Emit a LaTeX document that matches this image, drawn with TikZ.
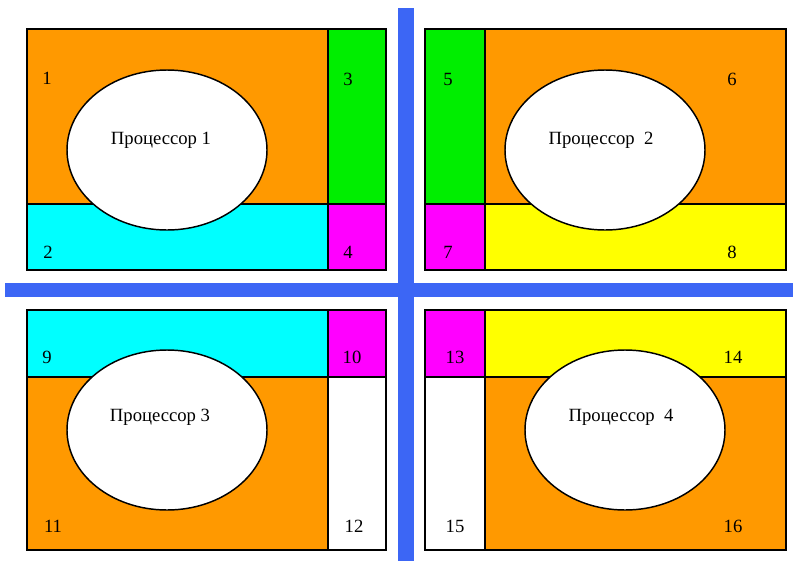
\documentclass[tikz,border=0pt]{standalone}
\usepackage{fontspec}
\setmainfont{Liberation Serif}
\usepackage{tikz}
\usetikzlibrary{shapes.geometric}
\definecolor{cellorange}{RGB}{255,153,0}
\definecolor{cellcyan}{RGB}{0,255,255}
\definecolor{cellgreen}{RGB}{0,238,0}
\definecolor{cellmagenta}{RGB}{255,0,255}
\definecolor{cellyellow}{RGB}{255,255,0}
\definecolor{barblue}{RGB}{60,102,245}
\tikzset{
  cellbox/.style={draw=black, line width=1.1pt},
  procell/.style={ellipse, draw=black, fill=white, line width=1.1pt, inner sep=0pt, minimum width=150pt, minimum height=120pt},
  proclabel/.style={font=\fontsize{14}{16}\selectfont, inner sep=0pt},
  numlabel/.style={font=\fontsize{14}{16}\selectfont, inner sep=0pt},
  splitbar/.style={fill=barblue}
}
\begin{document}
\begin{tikzpicture}[x=0.75pt, y=-0.75pt]
  \useasboundingbox (0,0) rectangle (793,561);
  \fill[white] (0,0) rectangle (793,561);

  \fill[splitbar] (398,8) rectangle (414,561);
  \fill[splitbar] (5,283) rectangle (793,297);

  \filldraw[cellbox, fill=cellorange] (27,29) rectangle (328,204);
  \filldraw[cellbox, fill=cellcyan] (27,204) rectangle (328,270);
  \filldraw[cellbox, fill=cellgreen] (328,29) rectangle (386,204);
  \filldraw[cellbox, fill=cellmagenta] (328,204) rectangle (386,270);
  \node[procell] (p1) at (167,150) {};
  \node[proclabel] (t1) at (161,140) {Процессор 1};
  \node[numlabel] (n1) at (47,78) {1};
  \node[numlabel] (n2) at (48,252) {2};
  \node[numlabel] (n3) at (348,79) {3};
  \node[numlabel] (n4) at (348,252) {4};

  \filldraw[cellbox, fill=cellgreen] (425,29) rectangle (485,204);
  \filldraw[cellbox, fill=cellmagenta] (425,204) rectangle (485,270);
  \filldraw[cellbox, fill=cellorange] (485,29) rectangle (786,204);
  \filldraw[cellbox, fill=cellyellow] (485,204) rectangle (786,270);
  \node[procell] (p2) at (605,150) {};
  \node[proclabel] (t2) at (601,140) {Процессор\ \ 2};
  \node[numlabel] (n5) at (448,79) {5};
  \node[numlabel] (n6) at (732,79) {6};
  \node[numlabel] (n7) at (448,252) {7};
  \node[numlabel] (n8) at (732,252) {8};

  \filldraw[cellbox, fill=cellcyan] (27,310) rectangle (328,377);
  \filldraw[cellbox, fill=cellmagenta] (328,310) rectangle (386,377);
  \filldraw[cellbox, fill=cellorange] (27,377) rectangle (328,550);
  \filldraw[cellbox, fill=white] (328,377) rectangle (386,550);
  \node[procell] (p3) at (167,430) {};
  \node[proclabel] (t3) at (160,417) {Процессор 3};
  \node[numlabel] (n9) at (47,357) {9};
  \node[numlabel] (n10) at (352,357) {10};
  \node[numlabel] (n11) at (53,526) {11};
  \node[numlabel] (n12) at (354,526) {12};

  \filldraw[cellbox, fill=cellmagenta] (425,310) rectangle (485,377);
  \filldraw[cellbox, fill=cellyellow] (485,310) rectangle (786,377);
  \filldraw[cellbox, fill=white] (425,377) rectangle (485,550);
  \filldraw[cellbox, fill=cellorange] (485,377) rectangle (786,550);
  \node[procell] (p4) at (625,430) {};
  \node[proclabel] (t4) at (621,417) {Процессор\ \ 4};
  \node[numlabel] (n13) at (455,357) {13};
  \node[numlabel] (n14) at (733,357) {14};
  \node[numlabel] (n15) at (455,526) {15};
  \node[numlabel] (n16) at (733,526) {16};
\end{tikzpicture}
\end{document}
